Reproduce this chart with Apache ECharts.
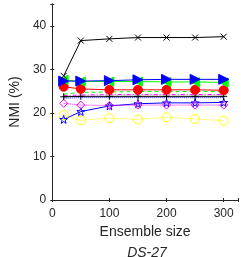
<!DOCTYPE html>
<html><head><meta charset="utf-8">
<script src="https://cdn.jsdelivr.net/npm/echarts@6/dist/echarts.min.js"></script>
<style>html,body{margin:0;padding:0;background:#fff}#c{width:241px;height:257px}</style>
</head><body><div id="c"></div>
<script>
const sizes = [20, 50, 100, 150, 200, 250, 300];
const xTicks = [0, 100, 200, 300];
const yTicks = [0, 10, 20, 30, 40];
const sBlackX     = [28.5, 36.6, 37.0, 37.3, 37.3, 37.3, 37.5];
const sBlueTri    = [27.3, 27.3, 27.4, 27.6, 27.7, 27.7, 27.7];
const sGreenTri   = [27.6, 27.2, 27.2, 27.2, 27.1, 27.1, 27.0];
const sRedCircle  = [26.0, 25.5, 25.3, 25.3, 25.3, 25.3, 25.2];
const sGreenDash  = [24.3, 24.7, 24.8, 24.9, 24.9, 24.9, 24.9];
const sMagDashDot = [24.0, 24.1, 24.2, 24.2, 24.2, 24.2, 24.2];
const sBlackPlus  = [23.7, 23.8, 23.8, 23.8, 23.8, 23.8, 23.8];
const sBlueDot    = [23.4, 23.5, 23.5, 23.5, 23.5, 23.5, 23.5];
const sMagDiamond = [22.2, 21.8, 21.7, 21.8, 21.8, 21.8, 21.8];
const sBlueStar   = [18.5, 20.3, 21.6, 22.1, 22.3, 22.3, 22.4];
const sYellowCirc = [19.5, 18.3, 18.8, 18.5, 19.0, 18.6, 18.2];

const pair = arr => sizes.map((x, i) => [x, arr[i]]);
const XPATH = 'path://M0,0L10,10M10,0L0,10';
const PLUS = 'path://M5,0L5,10M0,5L10,5';
const DIAM = 'path://M5,0L10,5L5,10L0,5Z';
const STAR = 'path://M50,0L61,35L98,35L68,57L79,91L50,70L21,91L32,57L2,35L39,35Z';
const txt = '#262626';

function ser(data, color, type, symbol, size, fill, rotate) {
  return {
    type: 'line', data: pair(data), symbol: symbol || 'none', symbolSize: size || 0,
    symbolRotate: rotate || 0, z: 3,
    lineStyle: { color: color, width: 1, type: type },
    itemStyle: { color: fill ? color : 'rgba(0,0,0,0)', borderColor: color, borderWidth: 1 },
    emphasis: { disabled: true }, animation: false
  };
}

const chart = echarts.init(document.getElementById('c'), null, { renderer: 'canvas' });
const axisCommon = {
  axisLine: { show: true, lineStyle: { color: txt, width: 1 } },
  axisTick: { show: true, inside: true, length: 2, lineStyle: { color: txt } },
  splitLine: { show: false }
};
chart.setOption({
  animation: false,
  grid: { left: 44, right: 1, top: 4, bottom: 57, show: false },
  title: { text: 'DS-27', left: 142, top: 241, textAlign: 'center',
    textStyle: { fontFamily: 'Liberation Sans', fontSize: 14, fontStyle: 'italic', fontWeight: 'normal', color: txt } },
  xAxis: [
    Object.assign({ type: 'value', min: 0, max: 325, interval: 100, position: 'bottom',
      name: 'Ensemble size', nameLocation: 'middle', nameGap: 25,
      nameTextStyle: { fontFamily: 'Liberation Sans', fontSize: 14, color: txt },
      axisLabel: { fontFamily: 'Liberation Sans', fontSize: 12, color: txt, margin: 8,
        formatter: v => xTicks.includes(v) ? String(v) : '' } }, axisCommon),
    Object.assign({ type: 'value', min: 0, max: 325, interval: 100, position: 'top',
      axisLabel: { show: false } }, axisCommon)
  ],
  yAxis: [
    Object.assign({ type: 'value', min: 0, max: 45, interval: 10, position: 'left',
      name: 'NMI (%)', nameLocation: 'middle', nameGap: 26, nameRotate: 90,
      nameTextStyle: { fontFamily: 'Liberation Sans', fontSize: 14, color: txt },
      axisLabel: { fontFamily: 'Liberation Sans', fontSize: 12, color: txt, margin: 6,
        formatter: v => yTicks.includes(v) ? String(v) : '' } }, axisCommon),
    Object.assign({ type: 'value', min: 0, max: 45, interval: 10, position: 'right',
      axisLabel: { show: false } }, axisCommon)
  ],
  series: [
    ser(sYellowCirc, '#ffff00', 'dotted', 'circle', 9, false),
    ser(sBlueStar, '#0000ff', 'solid', STAR, 8, false),
    ser(sMagDiamond, '#ff00ff', 'dotted', DIAM, 8, false),
    ser(sBlueDot, '#0000ff', 'dotted', 'none', 0, false),
    ser(sBlackPlus, '#000000', 'solid', PLUS, 7, false),
    ser(sMagDashDot, '#ff00ff', [4, 2, 1, 2], 'none', 0, false),
    ser(sGreenDash, '#00ff00', [4, 3], 'none', 0, false),
    ser(sRedCircle, '#ff0000', 'solid', 'circle', 9, true),
    ser(sGreenTri, '#00ff00', 'solid', 'triangle', 9, true, 90),
    ser(sBlueTri, '#0000ff', 'solid', 'triangle', 10, true, -90),
    ser(sBlackX, '#000000', 'solid', XPATH, 6, false)
  ]
});
</script></body></html>
